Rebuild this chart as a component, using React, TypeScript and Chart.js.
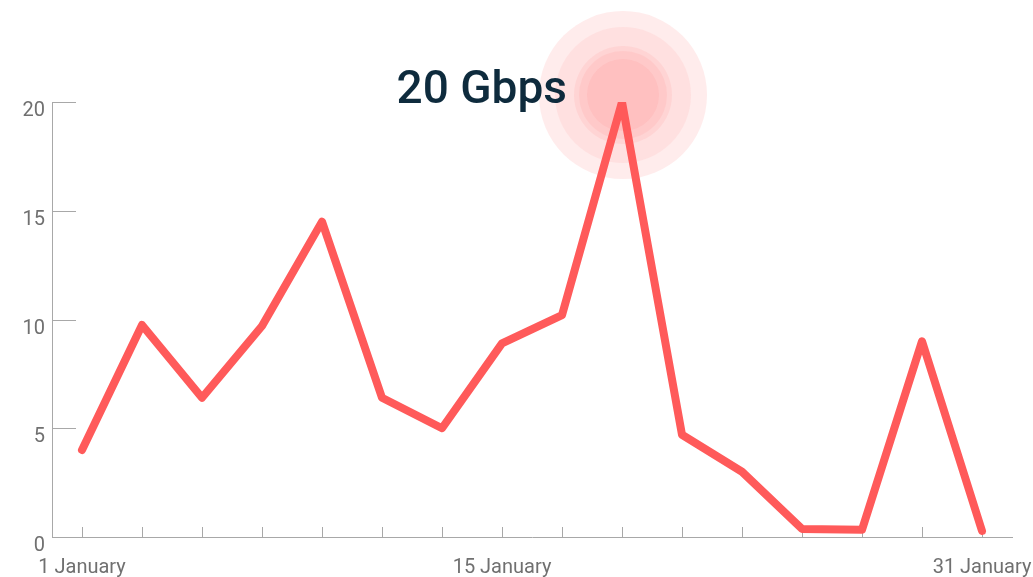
import React, { useEffect, useRef } from "react";
import { Chart, registerables } from "chart.js";

Chart.register(...registerables);

const days = ["1", "3", "5", "7", "9", "11", "13", "15", "17", "19", "21", "23", "25", "27", "29", "31"];
const categories = days.map((d) => `${d} January`);
const shownLabels = ["1 January", "15 January", "31 January"];
const trafficGbps = [4.0, 9.75, 6.4, 9.7, 14.5, 6.4, 5.0, 8.9, 10.2, 20, 4.7, 3.0, 0.37, 0.33, 9.0, 0.28];
const peakLabel = "20 Gbps";

const LINE = "#ff5a5a";
const AXIS = "#a8a8a8";
const TICK_TEXT = "#707070";

function peakIndex(data: number[]) {
  let maxI = 0;
  data.forEach((v, i) => {
    if (v > data[maxI]) maxI = i;
  });
  return maxI;
}

const decorPlugin = {
  id: "decor",
  beforeDatasetsDraw(chart: any) {
    const ctx = chart.ctx;
    const meta = chart.getDatasetMeta(0);
    const pt = meta.data[peakIndex(chart.data.datasets[0].data as number[])];
    const cx = pt.x + 1;
    const cy = pt.y - 7;
    const rings = [
      { r: 84, c: "rgba(255,110,110,0.13)" },
      { r: 68, c: "rgba(255,110,110,0.09)" },
      { r: 49, c: "rgba(255,110,110,0.10)" },
      { r: 44, c: "rgba(255,110,110,0.10)" },
      { r: 36, c: "rgba(255,110,110,0.10)" },
    ];
    ctx.save();
    for (const ring of rings) {
      ctx.beginPath();
      ctx.arc(cx, cy, ring.r, 0, Math.PI * 2);
      ctx.fillStyle = ring.c;
      ctx.fill();
    }
    ctx.restore();

    const x = chart.scales.x;
    const y = chart.scales.y;
    ctx.save();
    ctx.strokeStyle = AXIS;
    ctx.lineWidth = 1;
    x.ticks.forEach((_t: any, i: number) => {
      const px = Math.round(x.getPixelForTick(i)) + 0.5;
      ctx.beginPath();
      ctx.moveTo(px, y.bottom);
      ctx.lineTo(px, y.bottom - 10);
      ctx.stroke();
    });
    y.ticks.forEach((t: any) => {
      if (t.value === 0) return;
      const py = Math.round(y.getPixelForValue(t.value)) + 0.5;
      ctx.beginPath();
      ctx.moveTo(x.left, py);
      ctx.lineTo(x.left + 24, py);
      ctx.stroke();
    });
    ctx.restore();
  },
  afterDatasetsDraw(chart: any) {
    const ctx = chart.ctx;
    const meta = chart.getDatasetMeta(0);
    const pt = meta.data[peakIndex(chart.data.datasets[0].data as number[])];
    ctx.save();
    ctx.font = "500 46px Roboto";
    ctx.fillStyle = "#0e2b3d";
    ctx.textAlign = "right";
    ctx.textBaseline = "alphabetic";
    ctx.fillText(peakLabel, pt.x - 55, pt.y + 1);
    ctx.restore();
  },
};

export default function App() {
  const ref = useRef<HTMLCanvasElement | null>(null);
  useEffect(() => {
    if (!ref.current) return;
    const chart = new Chart(ref.current, {
      type: "line",
      data: {
        labels: categories,
        datasets: [
          {
            data: trafficGbps,
            borderColor: LINE,
            borderWidth: 8,
            borderCapStyle: "round",
            borderJoinStyle: "round",
            pointRadius: 0,
            tension: 0,
            fill: false,
          },
        ],
      },
      options: {
        animation: false,
        responsive: true,
        maintainAspectRatio: false,
        layout: { padding: { top: 102, right: 21, left: 0, bottom: 0 } },
        plugins: { legend: { display: false }, tooltip: { enabled: false }, title: { display: false } },
        scales: {
          x: {
            offset: true,
            grid: { display: false, drawTicks: false },
            border: { display: true, color: AXIS, width: 1 },
            ticks: {
              autoSkip: false,
              maxRotation: 0,
              padding: 19,
              color: TICK_TEXT,
              font: { family: "Roboto", size: 20 },
              callback: function (this: any, _v: any, i: number) {
                const l = categories[i];
                return shownLabels.includes(l) ? l : "";
              },
            },
            afterFit: (s: any) => {
              s.height = 40;
              s.paddingLeft = 0;
              s.paddingRight = 0;
            },
          },
          y: {
            min: 0,
            max: 20,
            grid: { display: false, drawTicks: false },
            border: { display: true, color: AXIS, width: 1 },
            ticks: {
              stepSize: 5,
              padding: 7,
              labelOffset: 9,
              color: TICK_TEXT,
              font: { family: "Roboto", size: 20 },
            },
            afterFit: (s: any) => {
              s.width = 52;
              s.paddingTop = 0;
              s.paddingBottom = 0;
            },
          },
        },
      },
      plugins: [decorPlugin],
    });
    return () => chart.destroy();
  }, []);
  return (
    <div style={{ position: "fixed", left: 0, top: 0, width: 1033, height: 577, background: "#fff" }}>
      <canvas ref={ref} />
    </div>
  );
}
